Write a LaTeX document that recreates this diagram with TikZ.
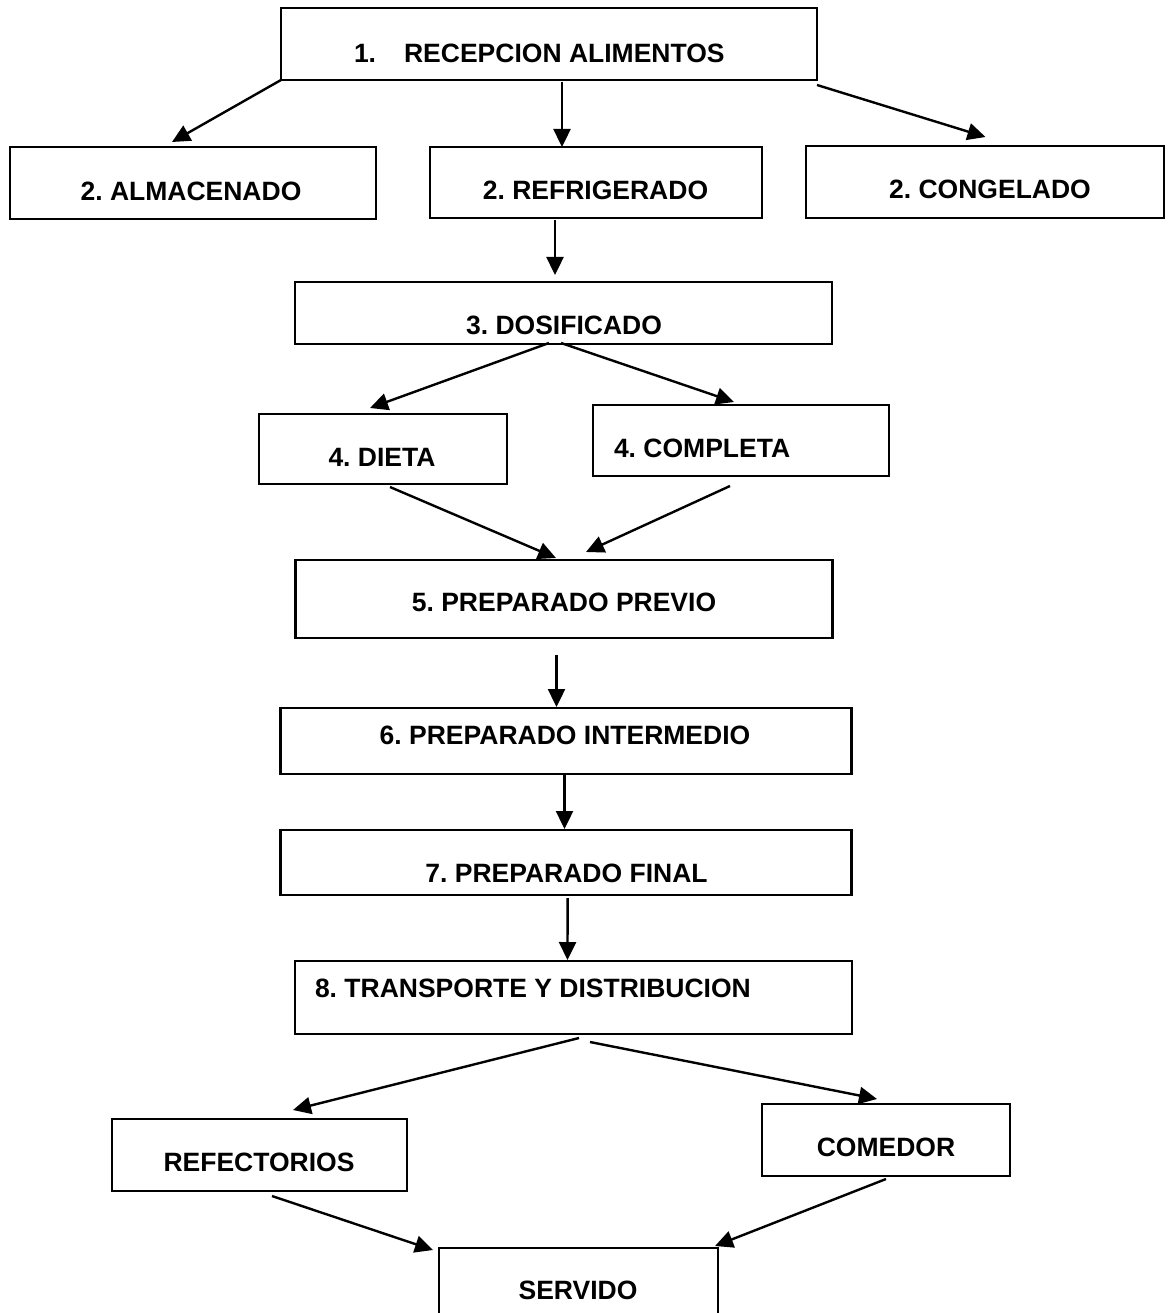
\documentclass[tikz,border=0pt]{standalone}
\usepackage{fontspec}
\setmainfont{Liberation Sans}
\usetikzlibrary{arrows.meta}
\frenchspacing
\begin{document}
\begin{tikzpicture}[x=1pt,y=-1pt,
  box/.style={draw=black,line width=2.2pt,rectangle,inner sep=0pt,outer sep=0pt},
  txt/.style={inner sep=0pt,outer sep=0pt,font=\fontsize{26.5pt}{30pt}\selectfont\bfseries},
  arr/.style={line width=2.4pt,-{Triangle[length=18pt,width=17pt]}}]
\useasboundingbox[fill=white] (0,0) rectangle (1167,1313);
% boxes
\node[box,minimum width=536pt,minimum height=72pt] (b1) at (549,44) {};
\node[box,minimum width=366pt,minimum height=72pt] (a) at (193,183) {};
\node[box,minimum width=332pt,minimum height=71pt] (r) at (596,182.5) {};
\node[box,minimum width=358pt,minimum height=72pt] (c) at (985,182) {};
\node[box,minimum width=537pt,minimum height=62pt] (d) at (563.5,313) {};
\node[box,minimum width=248pt,minimum height=70pt] (di) at (383,449) {};
\node[box,minimum width=296pt,minimum height=71pt] (co) at (741,440.5) {};
\node[box,minimum width=537pt,minimum height=78pt] (p5) at (564,599) {};
\node[box,minimum width=571pt,minimum height=66pt] (p6) at (566,741) {};
\node[box,minimum width=571pt,minimum height=65pt] (p7) at (566,862.5) {};
\node[box,minimum width=557pt,minimum height=73pt] (p8) at (573.5,997.5) {};
\node[box,minimum width=295pt,minimum height=72pt] (ref) at (259.5,1155) {};
\node[box,minimum width=248pt,minimum height=72pt] (com) at (886,1140) {};
\node[box,minimum width=279pt,minimum height=90pt] (s) at (578.5,1293) {};
% texts
\node[txt,anchor=base west] (t1) at (354,62.5) {1.\hspace{28pt}RECEPCION ALIMENTOS};
\node[txt,anchor=base] (ta) at (191,200.5) {2. ALMACENADO};
\node[txt,anchor=base] (tr) at (595.5,199.5) {2. REFRIGERADO};
\node[txt,anchor=base] (tc) at (990,199) {2. CONGELADO};
\node[txt,anchor=base] (td) at (564,334.5) {3. DOSIFICADO};
\node[txt,anchor=base] (tdi) at (382,466.5) {4. DIETA};
\node[txt,anchor=base west] (tco) at (614,457.5) {4. COMPLETA};
\node[txt,anchor=base] (t5) at (564,611.5) {5. PREPARADO PREVIO};
\node[txt,anchor=base] (t6) at (565,744.5) {6. PREPARADO INTERMEDIO};
\node[txt,anchor=base] (t7) at (566.5,882.5) {7. PREPARADO FINAL};
\node[txt,anchor=base west] (t8) at (315,997.5) {8. TRANSPORTE Y DISTRIBUCION};
\node[txt,anchor=base] (tref) at (259,1171.5) {REFECTORIOS};
\node[txt,anchor=base] (tcom) at (886,1156.5) {COMEDOR};
\node[txt,anchor=base] (ts) at (578,1299.5) {SERVIDO};
% connectors
\draw[arr] (b1.south west) -- ([xshift=-21pt,yshift=5pt]a.north);
\draw[arr] ([xshift=13pt,yshift=-2pt]b1.south) -- ([xshift=-34pt]r.north);
\draw[arr] ([yshift=-5pt]b1.south east) -- ([xshift=0.5pt,yshift=9pt]c.north);
\draw[arr] ([xshift=-41pt,yshift=-2pt]r.south) -- ([xshift=-8.5pt,yshift=7pt]d.north);
\draw[arr] ([xshift=-14.5pt,yshift=1pt]d.south) -- ([xshift=-13pt,yshift=6pt]di.north);
\draw[arr] ([xshift=-2.5pt,yshift=1pt]d.south) -- ([xshift=-7pt,yshift=3pt]co.north);
\draw[arr] ([xshift=7pt,yshift=-3pt]di.south) -- ([xshift=-8pt,yshift=2pt]p5.north);
\draw[arr] ([xshift=-11pt,yshift=-10pt]co.south) -- ([xshift=22pt,yshift=8pt]p5.north);
\draw[arr] ([xshift=-7.5pt,yshift=-17pt]p5.south) -- ([xshift=-9.5pt,yshift=1pt]p6.north);
\draw[arr] ([xshift=-1.5pt,yshift=-1pt]p6.south) -- ([xshift=-1.5pt,yshift=1pt]p7.north);
\draw[arr] ([xshift=1.6pt,yshift=-3pt]p7.south) -- ([xshift=-6pt,yshift=1pt]p8.north);
\draw[arr] ([xshift=5.5pt,yshift=-4pt]p8.south) -- ([xshift=33.5pt,yshift=9pt]ref.north);
\draw[arr] ([xshift=16.5pt,yshift=-8pt]p8.south) -- ([xshift=-9pt,yshift=5pt]com.north);
\draw[arr] ([xshift=12.5pt,yshift=-5pt]ref.south) -- ([xshift=-6pt,yshift=-2pt]s.north west);
\draw[arr] ([yshift=-3pt]com.south) -- ([xshift=-3pt,yshift=2pt]s.north east);
\end{tikzpicture}
\end{document}
